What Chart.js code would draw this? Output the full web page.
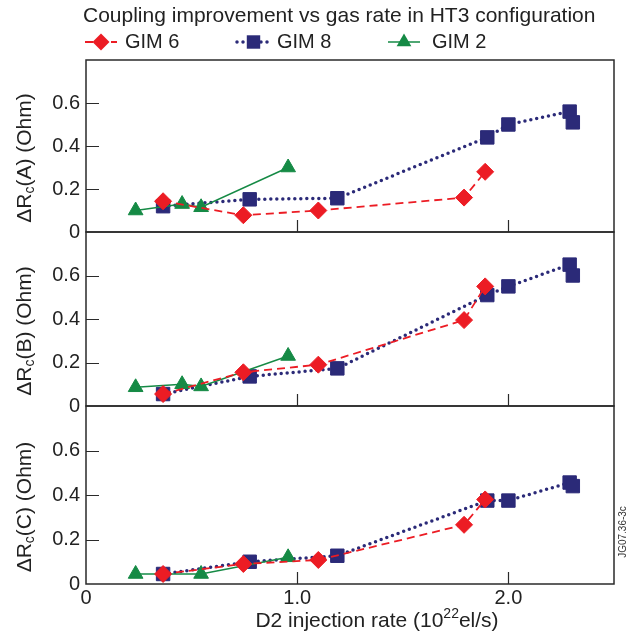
<!DOCTYPE html>
<html>
<head>
<meta charset="utf-8">
<script src="https://cdn.jsdelivr.net/npm/chart.js@4.4.1/dist/chart.umd.min.js"></script>
<style>
body { margin: 0; background: #fff; width: 635px; height: 641px; position: relative; overflow: hidden; }
canvas { position: absolute; left: 0; }
</style>
</head>
<body>
<canvas id="panelA" width="635" height="252" style="top:0px"></canvas>
<canvas id="panelB" width="635" height="214" style="top:212px"></canvas>
<canvas id="panelC" width="635" height="255" style="top:386px"></canvas>
<script>
// gas rates (10^22 el/s) for each probe
const rateGim6 = [0.365, 0.745, 1.10, 1.79, 1.89]
const rateGim8 = [0.365, 0.775, 1.19, 1.90, 2.00, 2.29, 2.305]
const rateGim2 = [0.235, 0.455, 0.545, 0.957]
const rateGim2C = [0.235, 0.545, 0.957]

// delta Rc (Ohm), antenna A
const gim6A = [0.143, 0.078, 0.10, 0.16, 0.28]
const gim8A = [0.12, 0.152, 0.157, 0.44, 0.50, 0.56, 0.51]
const gim2A = [0.10, 0.13, 0.115, 0.30]
// antenna B
const gim6B = [0.055, 0.155, 0.19, 0.395, 0.55]
const gim8B = [0.055, 0.136, 0.173, 0.51, 0.55, 0.65, 0.60]
const gim2B = [0.086, 0.10, 0.09, 0.23]
// antenna C
const gim6C = [0.045, 0.09, 0.108, 0.266, 0.38]
const gim8C = [0.045, 0.10, 0.127, 0.375, 0.375, 0.456, 0.44]
const gim2C = [0.045, 0.045, 0.12]

const seriesNames = ['GIM 6', 'GIM 8', 'GIM 2']
const xTickMarks = [1.0, 2.0]
const yTickMarks = [0.2, 0.4, 0.6]

const RED = '#ec1c24', NAVY = '#2b2a78', GREEN = '#158a45'
const FONT = '"Liberation Sans", Arial, Helvetica, sans-serif'

const styles = [
	{label: seriesNames[0], borderColor: RED, backgroundColor: RED, pointBackgroundColor: RED, pointBorderColor: RED,
	 borderWidth: 1.8, borderDash: [8, 5], pointStyle: 'rectRot', pointRadius: 8.5, pointBorderWidth: 1, order: 0},
	{label: seriesNames[1], borderColor: NAVY, backgroundColor: NAVY, pointBackgroundColor: NAVY, pointBorderColor: NAVY,
	 borderWidth: 3.5, borderDash: [0, 6], borderCapStyle: 'round', pointStyle: 'rect', pointRadius: 9.5, pointBorderWidth: 1, order: 2},
	{label: seriesNames[2], borderColor: GREEN, backgroundColor: GREEN, pointBackgroundColor: GREEN, pointBorderColor: GREEN,
	 borderWidth: 1.5, borderDash: [], pointStyle: 'triangle', pointRadius: 8.5, pointBorderWidth: 1, order: 1}
]

function series(xs, ys, style){
	return Object.assign({data: xs.map(function(x, i){ return {x: x, y: ys[i]} }), tension: 0, fill: false}, style)
}

function drawParts(ctx, parts, x, y, align){
	// parts: [text, size, dy]
	let total = 0
	parts.forEach(function(p){ ctx.font = p[1] + 'px ' + FONT; total += ctx.measureText(p[0]).width })
	let cx = align === 'center' ? x - total / 2 : x
	ctx.textAlign = 'left'
	ctx.textBaseline = 'middle'
	parts.forEach(function(p){
		ctx.font = p[1] + 'px ' + FONT
		ctx.fillText(p[0], cx, y + p[2])
		cx += ctx.measureText(p[0]).width
	})
}

function marker(ctx, style, x, y){
	const r = style.pointRadius
	ctx.fillStyle = style.pointBackgroundColor
	ctx.beginPath()
	if (style.pointStyle === 'rectRot') {
		ctx.moveTo(x, y - r); ctx.lineTo(x + r, y); ctx.lineTo(x, y + r); ctx.lineTo(x - r, y)
	} else if (style.pointStyle === 'rect') {
		const s = r * Math.SQRT1_2
		ctx.rect(x - s, y - s, 2 * s, 2 * s)
	} else {
		ctx.moveTo(x, y - r); ctx.lineTo(x + r * 0.866, y + r / 2); ctx.lineTo(x - r * 0.866, y + r / 2)
	}
	ctx.closePath()
	ctx.fill()
}

const framePlugin = {
	id: 'frame',
	beforeDatasetsDraw: function(chart){
		const ctx = chart.ctx, a = chart.chartArea
		const x = chart.scales.x, y = chart.scales.y
		ctx.save()
		ctx.strokeStyle = '#2a2a2a'
		ctx.lineWidth = 1.5
		ctx.strokeRect(a.left, a.top, a.right - a.left, a.bottom - a.top)
		ctx.beginPath()
		yTickMarks.forEach(function(v){
			const py = Math.round(y.getPixelForValue(v)) + 0.5
			ctx.moveTo(a.left, py); ctx.lineTo(a.left + 13, py)
		})
		xTickMarks.forEach(function(v){
			const px = Math.round(x.getPixelForValue(v)) + 0.5
			ctx.moveTo(px, a.bottom); ctx.lineTo(px, a.bottom - 12)
		})
		ctx.lineWidth = 1.2
		ctx.stroke()

		// rotated y title with subscript
		const panel = chart.options.plugins.frame.panel
		ctx.translate(25, (a.top + a.bottom) / 2 + 12)
		ctx.rotate(-Math.PI / 2)
		ctx.fillStyle = '#222'
		drawParts(ctx, [['\u0394R', 21, 0], ['c', 14, 5], ['(' + panel + ') (Ohm)', 21, 0]], 0, 0, 'center')
		ctx.restore()
	}
}

const headerPlugin = {
	id: 'header',
	afterDraw: function(chart){
		const ctx = chart.ctx
		ctx.save()
		ctx.fillStyle = '#222'
		ctx.font = '21px ' + FONT
		ctx.textAlign = 'left'
		ctx.textBaseline = 'middle'
		ctx.fillText('Coupling improvement vs gas rate in HT3 configuration', 83, 16)

		const legendPos = [[85, 117, 125], [237, 270, 277], [388, 420, 432]]
		styles.forEach(function(s, i){
			const p = legendPos[i], ly = 42
			ctx.strokeStyle = s.borderColor
			ctx.lineWidth = s.borderWidth
			ctx.lineCap = s.borderCapStyle || 'butt'
			ctx.setLineDash(s.borderDash)
			ctx.beginPath()
			ctx.moveTo(p[0], ly); ctx.lineTo(p[1], ly)
			ctx.stroke()
			ctx.setLineDash([])
			marker(ctx, s, (p[0] + p[1]) / 2, ly)
			ctx.fillStyle = '#222'
			ctx.font = '20px ' + FONT
			ctx.fillText(s.label, p[2], ly)
		})
		ctx.restore()
	}
}

const footerPlugin = {
	id: 'footer',
	afterDraw: function(chart){
		const ctx = chart.ctx
		const off = chart.canvas.offsetTop
		ctx.save()
		ctx.fillStyle = '#222'
		drawParts(ctx, [['D2 injection rate (10', 21, 0], ['22', 14, -7], ['el/s)', 21, 0]], 377, 621 - off, 'center')
		ctx.translate(623, 532 - off)
		ctx.rotate(-Math.PI / 2)
		ctx.font = '10px ' + FONT
		ctx.textAlign = 'center'
		ctx.textBaseline = 'middle'
		ctx.fillStyle = '#333'
		ctx.fillText('JG07.36-3c', 0, 0)
		ctx.restore()
	}
}

function makePanel(id, panel, datasets, padding, showX){
	return new Chart(document.getElementById(id), {
		type: 'line',
		data: {datasets: datasets},
		plugins: [framePlugin].concat(panel === 'A' ? [headerPlugin] : []).concat(showX ? [footerPlugin] : []),
		options: {
			responsive: false,
			animation: false,
			layout: {padding: padding},
			plugins: {legend: {display: false}, tooltip: {enabled: false}, frame: {panel: panel}},
			scales: {
				x: {
					type: 'linear', min: 0, max: 2.5, display: showX,
					grid: {display: false, drawTicks: false}, border: {display: false},
					afterFit: function(s){ if (showX) s.height = 57 },
					ticks: {
						stepSize: 1, padding: 2, color: '#222', font: {family: FONT, size: 20},
						callback: function(v){ return v === 0 ? '0' : (Number.isInteger(v) ? v.toFixed(1) : '') }
					}
				},
				y: {
					min: 0, max: 0.8,
					grid: {display: false, drawTicks: false}, border: {display: false},
					afterFit: function(s){ s.width = 86 },
					ticks: {
						stepSize: 0.2, padding: 6, color: '#222', font: {family: FONT, size: 20},
						callback: function(v){ return v > 0.79 ? '' : (v === 0 ? '0' : v.toFixed(1)) }
					}
				}
			}
		}
	})
}

makePanel('panelA', 'A', [
	series(rateGim6, gim6A, styles[0]),
	series(rateGim8, gim8A, styles[1]),
	series(rateGim2, gim2A, styles[2])
], {top: 60, bottom: 20, left: 0, right: 21}, false)

makePanel('panelB', 'B', [
	series(rateGim6, gim6B, styles[0]),
	series(rateGim8, gim8B, styles[1]),
	series(rateGim2, gim2B, styles[2])
], {top: 20, bottom: 20, left: 0, right: 21}, false)

makePanel('panelC', 'C', [
	series(rateGim6, gim6C, styles[0]),
	series(rateGim8, gim8C, styles[1]),
	series(rateGim2C, gim2C, styles[2])
], {top: 20, bottom: 0, left: 0, right: 21}, true)
</script>
</body>
</html>
